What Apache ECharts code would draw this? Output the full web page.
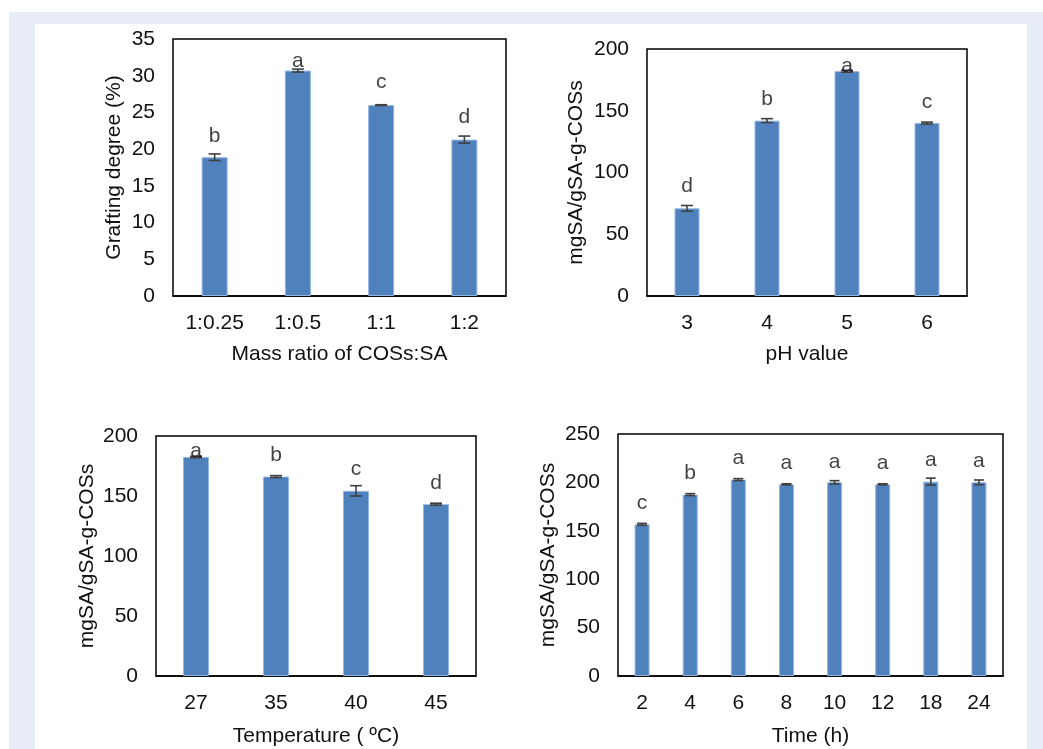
<!DOCTYPE html>
<html>
<head>
<meta charset="utf-8">
<script src="https://cdn.jsdelivr.net/npm/echarts@6/dist/echarts.min.js"></script>
<style>
html,body{margin:0;padding:0;background:#fff;width:1043px;height:749px;overflow:hidden;}
#frame{position:absolute;left:9px;top:12px;width:1034px;height:737px;background:#e7ecf6;}
#panel{position:absolute;left:35px;top:24px;width:992px;height:725px;background:#fff;}
#chart{position:absolute;left:0;top:0;width:1043px;height:749px;}
</style>
</head>
<body>
<div id="frame"></div>
<div id="panel"></div>
<div id="chart"></div>
<script>
// Panel 1: mass ratio
const ratioCats = ['1:0.25', '1:0.5', '1:1', '1:2'];
const ratioVals = [18.9, 30.7, 26.0, 21.3];
const ratioErr = [0.45, 0.2, 0.05, 0.48];
const ratioLetters = ['b', 'a', 'c', 'd'];
const ratioLetterY = [21.8, 32.0, 29.05, 24.4];

// Panel 2: pH
const phCats = ['3', '4', '5', '6'];
const phVals = [71, 142, 182, 140];
const phErr = [2.3, 1.6, 0.8, 0.8];
const phLetters = ['d', 'b', 'a', 'c'];
const phLetterY = [88.9, 159.5, 185.7, 157.3];

// Panel 3: temperature
const tempCats = ['27', '35', '40', '45'];
const tempVals = [182.5, 166.2, 154.3, 143.2];
const tempErr = [0.6, 0.8, 4.3, 0.8];
const tempLetters = ['a', 'b', 'c', 'd'];
const tempLetterY = [187.7, 184.4, 172.4, 160.7];

// Panel 4: time
const timeCats = ['2', '4', '6', '8', '10', '12', '18', '24'];
const timeVals = [156.7, 187.4, 202.9, 198, 200.1, 198, 200.8, 200.1];
const timeErr = [1.0, 1.0, 1.0, 0.6, 1.7, 0.6, 3.6, 2.4];
const timeLetters = ['c', 'b', 'a', 'a', 'a', 'a', 'a', 'a'];
const timeLetterY = [178.1, 209.1, 224.6, 220, 221, 219.4, 222.8, 221.7];

const yNames = ['Grafting degree (%)', 'mgSA/gSA-g-COSs', 'mgSA/gSA-g-COSs', 'mgSA/gSA-g-COSs'];
const xNames = ['Mass ratio of COSs:SA', 'pH value', 'Temperature ( ºC)', 'Time (h)'];
const yMax = [35, 200, 200, 250];
const yStep = [5, 50, 50, 50];

const FONT = "'Liberation Sans', Arial, sans-serif";
const TXT = '#111';
const panels = [
  {cats: ratioCats, vals: ratioVals, err: ratioErr, letters: ratioLetters, ly: ratioLetterY},
  {cats: phCats, vals: phVals, err: phErr, letters: phLetters, ly: phLetterY},
  {cats: tempCats, vals: tempVals, err: tempErr, letters: tempLetters, ly: tempLetterY},
  {cats: timeCats, vals: timeVals, err: timeErr, letters: timeLetters, ly: timeLetterY}
];
const grids = [
  {left: 173, top: 39, width: 333, height: 257},
  {left: 647, top: 49, width: 320, height: 247},
  {left: 156, top: 436, width: 320, height: 240},
  {left: 618, top: 434, width: 385, height: 242}
];
const barW = [26, 25, 26, 15];
const capHalf = [6, 6, 6, 5];
const xNameGap = [48, 48, 50, 50];
const yNameGap = [48, 60, 58, 59];

const option = {
  animation: false,
  textStyle: {fontFamily: FONT},
  grid: grids.map(g => Object.assign({show: true, borderColor: '#000', borderWidth: 1.5, backgroundColor: 'transparent'}, g)),
  xAxis: panels.map((p, i) => ({
    type: 'category', gridIndex: i, data: p.cats,
    axisLine: {show: true, lineStyle: {color: '#000', width: 1.5}},
    axisTick: {show: false},
    axisLabel: {color: TXT, fontSize: 21, fontFamily: FONT, margin: 17},
    name: xNames[i], nameLocation: 'middle', nameGap: xNameGap[i],
    nameTextStyle: {color: TXT, fontSize: 21, fontFamily: FONT}
  })),
  yAxis: panels.map((p, i) => ({
    type: 'value', gridIndex: i, min: 0, max: yMax[i], interval: yStep[i],
    axisLine: {show: false}, axisTick: {show: false}, splitLine: {show: false},
    axisLabel: {color: TXT, fontSize: 21, fontFamily: FONT, margin: 18},
    name: yNames[i], nameLocation: 'middle', nameGap: yNameGap[i], nameRotate: 90,
    nameTextStyle: {color: TXT, fontSize: 21, fontFamily: FONT}
  })),
  series: []
};

panels.forEach((p, i) => {
  option.series.push({
    type: 'bar', xAxisIndex: i, yAxisIndex: i, data: p.vals, barWidth: barW[i],
    itemStyle: {color: '#4f81bd', borderColor: '#95b6e0', borderWidth: 1}, z: 2
  });
  option.series.push({
    type: 'custom', xAxisIndex: i, yAxisIndex: i, z: 5,
    data: p.vals.map((v, k) => [k, v, p.err[k]]),
    renderItem: function (params, api) {
      const x = api.value(0), v = api.value(1), e = api.value(2);
      const t = api.coord([x, v + e]);
      const b = api.coord([x, v - e]);
      const h = capHalf[i];
      const st = {stroke: '#404040', lineWidth: 1.6};
      return {type: 'group', children: [
        {type: 'line', shape: {x1: t[0], y1: t[1], x2: b[0], y2: b[1]}, style: st},
        {type: 'line', shape: {x1: t[0] - h, y1: t[1], x2: t[0] + h, y2: t[1]}, style: st},
        {type: 'line', shape: {x1: b[0] - h, y1: b[1], x2: b[0] + h, y2: b[1]}, style: st}
      ]};
    }
  });
  option.series.push({
    type: 'scatter', xAxisIndex: i, yAxisIndex: i, symbolSize: 0, z: 6,
    data: p.ly.map((y, k) => ({value: [k, y], name: p.letters[k]})),
    label: {show: true, position: 'inside', formatter: d => d.name, color: TXT, fontSize: 21, fontFamily: FONT}
  });
});

const chart = echarts.init(document.getElementById('chart'), null, {renderer: 'canvas'});
chart.setOption(option);
</script>
</body>
</html>
